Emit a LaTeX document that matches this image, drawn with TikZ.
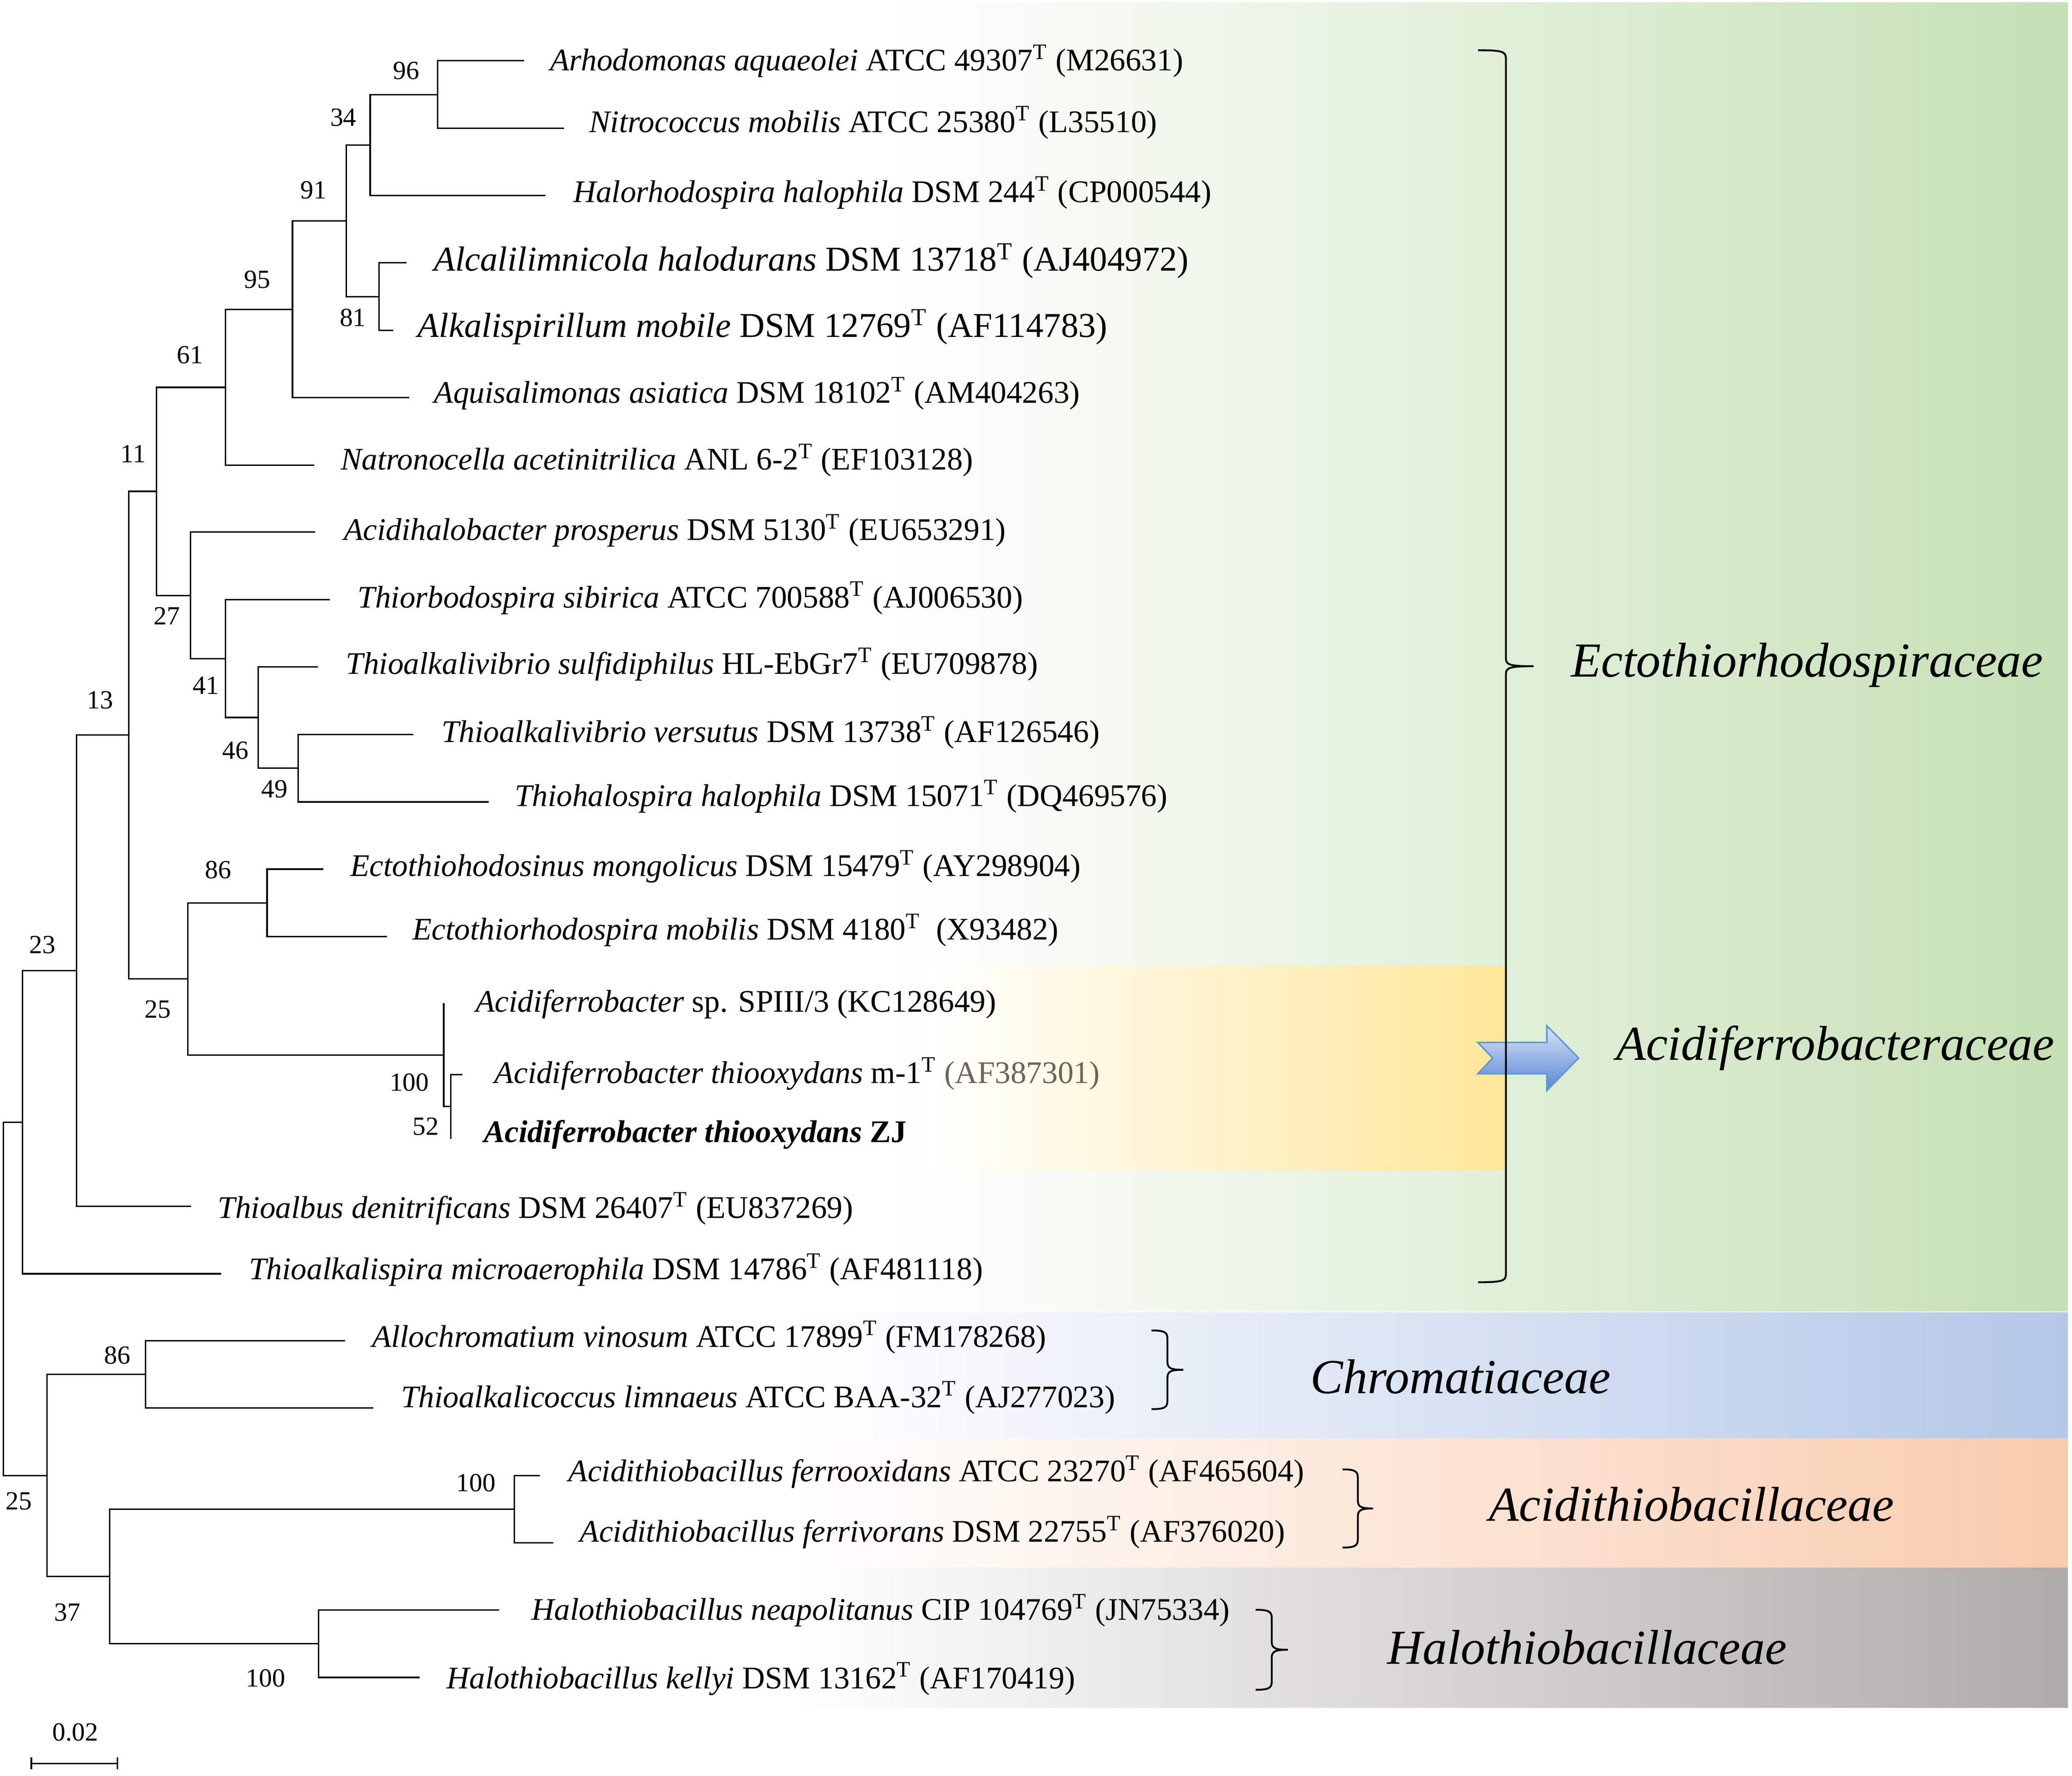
\documentclass[tikz,border=0pt]{standalone}
\usepackage{fontspec}
\setmainfont{Liberation Serif}
\usetikzlibrary{calc}

\definecolor{ectogreen}{HTML}{C5E0B4}
\definecolor{acidgold}{HTML}{FFE699}
\definecolor{chromblue}{HTML}{B4C7E7}
\definecolor{thioorange}{HTML}{F8CBAD}
\definecolor{halogray}{HTML}{AFABAB}
\definecolor{arrowline}{HTML}{5B9BD5}
\definecolor{arrowtop}{HTML}{DCE4F5}
\definecolor{arrowbot}{HTML}{5585D6}
\definecolor{accgray}{HTML}{6E6259}

\newcommand{\typestr}{\textsuperscript{T}}
% #1 x of the ends, #2 top, #3 bottom, #4 offset of the bar
\newcommand{\cladebrace}[4]{%
  \draw[bracket] (#1,#2) .. controls ({#1+#4-3},#2) and ({#1+#4},{#2+1}) .. ({#1+#4},{#2+6})
    -- ({#1+#4},{(#2+#3)/2-6}) .. controls ({#1+#4},{(#2+#3)/2-1}) and ({#1+#4+3},{(#2+#3)/2}) .. ({#1+2*#4},{(#2+#3)/2})
    .. controls ({#1+#4+3},{(#2+#3)/2}) and ({#1+#4},{(#2+#3)/2+1}) .. ({#1+#4},{(#2+#3)/2+6})
    -- ({#1+#4},{#3-6}) .. controls ({#1+#4},{#3-1}) and ({#1+#4-3},#3) .. (#1,#3);}

\begin{document}
\begin{tikzpicture}[x=0.5pt, y=-0.5pt,
  branch/.style={line width=0.55pt, line cap=rect},
  leaf/.style={anchor=base west, inner sep=0pt, font=\fontsize{11.9}{14}\selectfont},
  bigleaf/.style={leaf, font=\fontsize{13.2}{15}\selectfont},
  boot/.style={inner sep=0pt, font=\fontsize{9.9}{12}\selectfont},
  family/.style={anchor=base west, inner sep=0pt, font=\fontsize{18.5}{22}\selectfont\itshape},
  bracket/.style={line width=0.7pt}]
\useasboundingbox (0,0) rectangle (1567.2,1343.5);

% family bands
\shade[left color=white, right color=ectogreen] (670,2) rectangle (1564,992);
\shade[left color=white, right color=acidgold] (700,731) rectangle (1138,885);
\shade[left color=white, right color=chromblue] (600,993) rectangle (1564,1088);
\shade[left color=white, right color=thioorange] (600,1088) rectangle (1564,1186);
\shade[left color=white, right color=halogray] (600,1186) rectangle (1564,1292);

% notched arrow
\draw[arrowline, line width=0.6pt, top color=arrowtop, bottom color=arrowbot]
  (1117.8,788.6) -- (1170,788.6) -- (1170,776) -- (1194,800.4) -- (1170,825)
  -- (1170,812.3) -- (1117.8,812.3) -- (1129,800.4) -- cycle;

% inner nodes
\coordinate (root) at (2.6,982.5);
\coordinate (nE) at (17,848.9);
\coordinate (n23) at (58,734.2);
\coordinate (n13) at (97.3,556);
\coordinate (n11) at (118.3,371.7);
\coordinate (n61) at (170.6,293);
\coordinate (n95) at (221.2,234);
\coordinate (n91) at (262,167);
\coordinate (n34) at (280,109.8);
\coordinate (n96) at (331,71.5);
\coordinate (n81) at (286.6,224.5);
\coordinate (n27) at (144,450.4);
\coordinate (n41) at (170.6,498.2);
\coordinate (n46) at (195.2,542.8);
\coordinate (n49) at (225.5,581.2);
\coordinate (n25a) at (142,740.4);
\coordinate (n86a) at (202,683);
\coordinate (n100a) at (335.6,798.3);
\coordinate (n52) at (341,837);
\coordinate (n25b) at (35.5,1116.2);
\coordinate (n86b) at (110,1039.7);
\coordinate (n37) at (83,1192.6);
\coordinate (n100c) at (389,1141.7);
\coordinate (n100h) at (241,1243.5);

% leaves
\coordinate (l1) at (396,45.8);
\coordinate (l2) at (426,97.1);
\coordinate (l3) at (412,148);
\coordinate (l4) at (307,198.8);
\coordinate (l5) at (297,250);
\coordinate (l6) at (309,300.8);
\coordinate (l7) at (237,352);
\coordinate (l8) at (238,402.5);
\coordinate (l9) at (249,453.6);
\coordinate (l10) at (240,504.5);
\coordinate (l11) at (312,555.6);
\coordinate (l12) at (369,606.7);
\coordinate (l13) at (244,657.5);
\coordinate (l14) at (292,708.6);
\coordinate (l15) at (335.6,759.5);
\coordinate (l16) at (349,813);
\coordinate (l17) at (341,861);
\coordinate (l18) at (144,912.5);
\coordinate (l19) at (166.6,963.6);
\coordinate (l20) at (260.7,1014.3);
\coordinate (l21) at (282,1065);
\coordinate (l22) at (408,1116.4);
\coordinate (l23) at (418,1167);
\coordinate (l24) at (377,1218);
\coordinate (l25) at (317,1269);

\foreach \p/\c in {n96/l1, n96/l2, n34/n96, n34/l3, n81/l4, n81/l5, n91/n34, n91/n81,
    n95/n91, n95/l6, n61/n95, n61/l7, n11/n61, n11/n27, n27/l8, n27/n41, n41/l9, n41/n46,
    n46/l10, n46/n49, n49/l11, n49/l12, n86a/l13, n86a/l14, n100a/l15, n100a/n52,
    n52/l16, n52/l17, n25a/n86a, n25a/n100a, n13/n11, n13/n25a, n23/n13, n23/l18,
    nE/n23, nE/l19, n86b/l20, n86b/l21, n100c/l22, n100c/l23, n100h/l24, n100h/l25,
    n37/n100c, n37/n100h, n25b/n86b, n25b/n37, root/nE, root/n25b}
  \draw[branch] (\p) |- (\c);

% taxa
\node[leaf] (t1) at (415.8,53.5) {\textit{Arhodomonas aquaeolei} ATCC 49307\typestr{} (M26631)};
\node[leaf] (t2) at (445.4,100) {\textit{Nitrococcus mobilis} ATCC 25380\typestr{} (L35510)};
\node[leaf] (t3) at (433.2,153) {\textit{Halorhodospira halophila} DSM 244\typestr{} (CP000544)};
\node[bigleaf] (t4) at (327.7,205) {\textit{Alcalilimnicola halodurans} DSM 13718\typestr{} (AJ404972)};
\node[bigleaf] (t5) at (315.6,255) {\textit{Alkalispirillum mobile} DSM 12769\typestr{} (AF114783)};
\node[leaf] (t6) at (328,305) {\textit{Aquisalimonas asiatica} DSM 18102\typestr{} (AM404263)};
\node[leaf] (t7) at (257.4,355.5) {\textit{Natronocella acetinitrilica} ANL 6-2\typestr{} (EF103128)};
\node[leaf] (t8) at (259.7,408.6) {\textit{Acidihalobacter prosperus} DSM 5130\typestr{} (EU653291)};
\node[leaf] (t9) at (270.2,459.7) {\textit{Thiorbodospira sibirica} ATCC 700588\typestr{} (AJ006530)};
\node[leaf] (t10) at (261.3,509.8) {\textit{Thioalkalivibrio sulfidiphilus} HL-EbGr7\typestr{} (EU709878)};
\node[leaf] (t11) at (333.6,561.6) {\textit{Thioalkalivibrio versutus} DSM 13738\typestr{} (AF126546)};
\node[leaf] (t12) at (388.9,609.8) {\textit{Thiohalospira halophila} DSM 15071\typestr{} (DQ469576)};
\node[leaf] (t13) at (264.6,662.8) {\textit{Ectothiohodosinus mongolicus} DSM 15479\typestr{} (AY298904)};
\node[leaf] (t14) at (311.6,711) {\textit{Ectothiorhodospira mobilis} DSM 4180\typestr{}\enspace(X93482)};
\node[leaf] (t15) at (359.3,765.5) {\textit{Acidiferrobacter} sp. SPIII/3 (KC128649)};
\node[leaf] (t16) at (373.7,819.6) {\textit{Acidiferrobacter thiooxydans} m-1\typestr{} {\color{accgray}(AF387301)}};
\node[leaf] (t17) at (365.5,864) {\bfseries\itshape Acidiferrobacter thiooxydans \upshape ZJ};
\node[leaf] (t18) at (164.4,921.5) {\textit{Thioalbus denitrificans} DSM 26407\typestr{} (EU837269)};
\node[leaf] (t19) at (188,968) {\textit{Thioalkalispira microaerophila} DSM 14786\typestr{} (AF481118)};
\node[leaf] (t20) at (281,1019) {\textit{Allochromatium vinosum} ATCC 17899\typestr{} (FM178268)};
\node[leaf] (t21) at (303,1064.6) {\textit{Thioalkalicoccus limnaeus} ATCC BAA-32\typestr{} (AJ277023)};
\node[leaf] (t22) at (429.6,1120.8) {\textit{Acidithiobacillus ferrooxidans} ATCC 23270\typestr{} (AF465604)};
\node[leaf] (t23) at (438.2,1166.4) {\textit{Acidithiobacillus ferrivorans} DSM 22755\typestr{} (AF376020)};
\node[leaf] (t24) at (401.7,1225.5) {\textit{Halothiobacillus neapolitanus} CIP 104769\typestr{} (JN75334)};
\node[leaf] (t25) at (337.6,1277.3) {\textit{Halothiobacillus kellyi} DSM 13162\typestr{} (AF170419)};

% bootstrap values
\node[boot] (b96) at (307.3,53.5) {96};
\node[boot] (b34) at (259.7,88.7) {34};
\node[boot] (b91) at (237.3,144) {91};
\node[boot] (b95) at (194.6,211.4) {95};
\node[boot] (b81) at (266.9,240.3) {81};
\node[boot] (b61) at (143.6,268.7) {61};
\node[boot] (b11) at (100.9,343.4) {11};
\node[boot] (b27) at (126.2,465.9) {27};
\node[boot] (b41) at (155.8,518.7) {41};
\node[boot] (b13) at (75.6,529.5) {13};
\node[boot] (b46) at (178.2,567.6) {46};
\node[boot] (b49) at (207.7,597) {49};
\node[boot] (b86a) at (165,658) {86};
\node[boot] (b23) at (32.2,714.9) {23};
\node[boot] (b25a) at (119.3,763.6) {25};
\node[boot] (b100a) at (309.6,819) {100};
\node[boot] (b52) at (322,852.3) {52};
\node[boot] (b86b) at (88.7,1025.3) {86};
\node[boot] (b25b) at (14.1,1135.5) {25};
\node[boot] (b100c) at (360,1122) {100};
\node[boot] (b37) at (51,1219.6) {37};
\node[boot] (b100h) at (201,1269.6) {100};

% scale bar
\draw[branch] (23.7,1330) -- (23.7,1338) (23.7,1334) -- (88.7,1334) (88.7,1330) -- (88.7,1338);
\node[boot] (scale) at (56.9,1310.3) {0.02};

% families
\cladebrace{1118}{38}{970}{21}
\cladebrace{871}{1006.5}{1066}{12}
\cladebrace{1015.5}{1111.6}{1170.7}{11.5}
\cladebrace{949.7}{1217.8}{1278.3}{12.2}
\node[family] (ecto) at (1188,512) {Ectothiorhodospiraceae};
\node[family] (acidf) at (1222,802) {Acidiferrobacteraceae};
\node[family] (chrom) at (991,1054) {Chromatiaceae};
\node[family] (acidt) at (1126,1150.5) {Acidithiobacillaceae};
\node[family] (halo) at (1049,1259) {Halothiobacillaceae};
\end{tikzpicture}
\end{document}
